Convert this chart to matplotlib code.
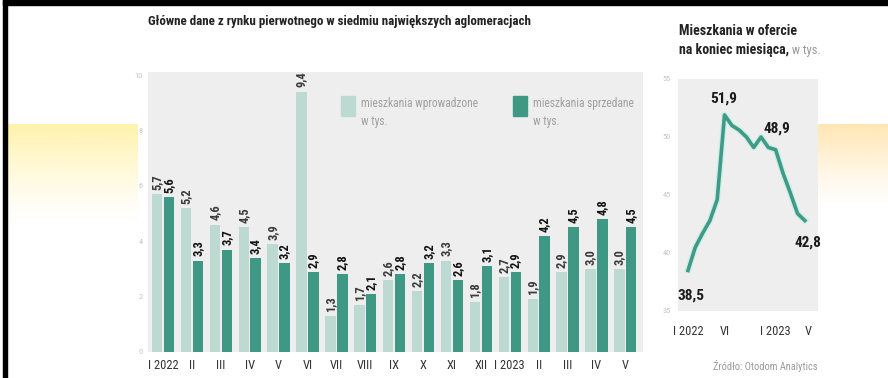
import numpy as np
import matplotlib
matplotlib.use('Agg')
import matplotlib.pyplot as plt
from matplotlib import font_manager
from matplotlib.patches import Rectangle
import matplotlib.patheffects as pe

# dane: rynek pierwotny, 7 największych aglomeracji (tys. mieszkań)
months = ['I 2022', 'II', 'III', 'IV', 'V', 'VI', 'VII', 'VIII', 'IX', 'X',
          'XI', 'XII', 'I 2023', 'II', 'III', 'IV', 'V']
introduced = [5.7, 5.2, 4.6, 4.5, 3.9, 9.4, 1.3, 1.7, 2.6, 2.2, 3.3, 1.8, 2.7, 1.9, 2.9, 3.0, 3.0]
sold = [5.6, 3.3, 3.7, 3.4, 3.2, 2.9, 2.8, 2.1, 2.8, 3.2, 2.6, 3.1, 2.9, 4.2, 4.5, 4.8, 4.5]
bar_yticks = [0, 2, 4, 6, 8, 10]

# mieszkania w ofercie na koniec miesiąca (tys.)
offer = [38.5, 40.5, 41.7, 42.8, 44.6, 51.9, 51.0, 50.6, 50.0, 49.1, 50.0, 49.1, 48.9, 46.9, 45.2, 43.4, 42.8]
offer_ticks = [0, 5, 12, 16]
offer_ticklabels = ['I 2022', 'VI', 'I 2023', 'V']
offer_yticks = [35, 40, 45, 50, 55]
offer_marked = [0, 5, 12, 16]

LIGHT = '#bcdad1'
DARK = '#3e9884'
LINE = '#3f9b87'
PANEL = '#eeeeee'

# czcionka wąska, jeśli jest
names = {f.name for f in font_manager.fontManager.ttflist}
narrow = 'DejaVu Sans'
for n in ['Roboto Condensed', 'Liberation Sans Narrow', 'Open Sans Condensed', 'Roboto']:
    if n in names:
        narrow = n
        break
plt.rcParams['font.family'] = [narrow, 'DejaVu Sans']


def fmt(v):
    return f'{v:.1f}'.replace('.', ',')


W, H = 888, 378
fig = plt.figure(figsize=(W / 100, H / 100), dpi=100, facecolor='white')


def pix_axes(z):
    a = fig.add_axes([0, 0, 1, 1], zorder=z)
    a.set_xlim(0, W)
    a.set_ylim(H, 0)
    a.axis('off')
    a.patch.set_alpha(0)
    return a


# tło w pikselach
bg = pix_axes(0)


def glow(x0, x1, y0, y1, color):
    rgb = matplotlib.colors.to_rgb(color)
    a = np.linspace(1, 0, 60) ** 1.3
    img = np.zeros((60, 1, 4))
    img[:, 0, :3] = rgb
    img[:, 0, 3] = a
    bg.imshow(img, extent=[x0, x1, y1, y0], aspect='auto', interpolation='bilinear')


glow(8, 137, 124, 225, '#fff2ad')
glow(818, 888, 124, 210, '#ffe6b3')
bg.set_xlim(0, W)
bg.set_ylim(H, 0)
bg.add_patch(Rectangle((3, 0), 4, H, color='black'))
bg.add_patch(Rectangle((3, 0), W, 4.5, color='black'))

# tytuły
bg.text(148, 22, 'Główne dane z rynku pierwotnego w siedmiu największych aglomeracjach',
        fontsize=9.4, fontweight='bold', color='#222222', va='center', ha='left')
bg.text(679, 31, 'Mieszkania w ofercie', fontsize=10, fontweight='bold',
        color='#222222', va='center', ha='left')
t2 = bg.text(679, 50, 'na koniec miesiąca,', fontsize=10, fontweight='bold',
             color='#222222', va='center', ha='left')
bg.annotate(' w tys.', xy=(1, 0), xycoords=t2, va='bottom', ha='left',
            fontsize=9, color='#9a9a9a')
bg.text(818, 366, 'Źródło: Otodom Analytics', fontsize=7.5, color='#9a9a9a',
        va='center', ha='right')

# wykres słupkowy
ax = fig.add_axes([148 / W, 26 / H, 495 / W, 280 / H], zorder=1)
ax.set_facecolor(PANEL)
x = np.arange(len(months))
ax.bar(x - 0.205, introduced, 0.36, color=LIGHT)
ax.bar(x + 0.205, sold, 0.36, color=DARK)
for xi, a, b in zip(x, introduced, sold):
    ax.annotate(fmt(a), (xi - 0.205, a), xytext=(0, 3), textcoords='offset points',
                rotation=90, ha='center', va='bottom', fontsize=9,
                fontweight='bold', color='#3a3a3a')
    ax.annotate(fmt(b), (xi + 0.205, b), xytext=(0, 3), textcoords='offset points',
                rotation=90, ha='center', va='bottom', fontsize=9,
                fontweight='bold', color='#111111')
ax.set_xlim(-0.52, 16.61)
ax.set_ylim(0, 10.11)
ax.set_yticks(bar_yticks)
ax.set_yticklabels([str(t) for t in bar_yticks])
ax.set_xticks(x)
ax.set_xticklabels(months)
ax.tick_params(axis='y', length=0, pad=4, labelsize=6, labelcolor='#c5c5c5')
ax.tick_params(axis='x', length=0, pad=5, labelsize=9, labelcolor='#333333')
for s in ax.spines.values():
    s.set_visible(False)

# legenda nad panelem
fg = pix_axes(3)
fg.add_patch(Rectangle((341, 96), 14, 20, color=LIGHT))
fg.text(361, 103, 'mieszkania wprowadzone', fontsize=8.3, color='#a0a0a0', va='center')
fg.text(361, 121, 'w tys.', fontsize=8.3, color='#a0a0a0', va='center')
fg.add_patch(Rectangle((513, 96), 14, 20, color=DARK))
fg.text(533, 103, 'mieszkania sprzedane', fontsize=8.3, color='#a0a0a0', va='center')
fg.text(533, 121, 'w tys.', fontsize=8.3, color='#a0a0a0', va='center')

# wykres liniowy
ax2 = fig.add_axes([678 / W, (H - 311) / H, 140 / W, 232 / H], zorder=1)
ax2.set_facecolor(PANEL)
xo = np.arange(len(offer))
ax2.plot(xo, offer, color=LINE, lw=2.6, solid_joinstyle='round',
         path_effects=[pe.Stroke(linewidth=4.5, foreground='#cdeee4'), pe.Normal()])
ax2.set_xlim(-1.37, 17.8)
ax2.set_ylim(35, 55)
ax2.set_yticks(offer_yticks)
ax2.set_yticklabels([str(t) for t in offer_yticks])
ax2.set_xticks(offer_ticks)
ax2.set_xticklabels(offer_ticklabels)
ax2.get_xticklabels()[-1].set_ha('left')
ax2.tick_params(axis='y', length=0, pad=5, labelsize=6, labelcolor='#c5c5c5')
ax2.tick_params(axis='x', length=0, pad=10, labelsize=9, labelcolor='#333333')
for s in ax2.spines.values():
    s.set_visible(False)

offsets = {0: (3, -18, 'top'), 5: (-1, 9, 'bottom'), 12: (1, 14, 'bottom'), 16: (3, -15, 'top')}
for i in offer_marked:
    dx, dy, va = offsets[i]
    ax2.annotate(fmt(offer[i]), (xo[i], offer[i]), xytext=(dx, dy), textcoords='offset pixels',
                 ha='center', va=va, fontsize=11, fontweight='bold', color='#1a1a1a')

fig.savefig('out.png', dpi=100, facecolor='white')
